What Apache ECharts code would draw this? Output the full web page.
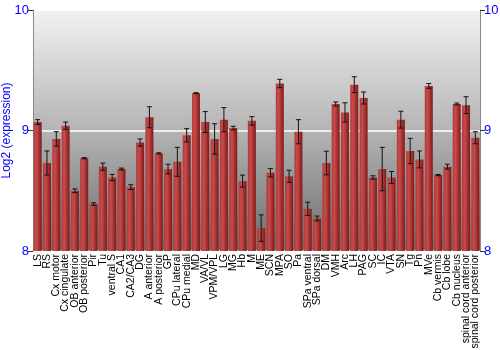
<!DOCTYPE html>
<html>
<head>
<meta charset="utf-8">
<script src="https://cdn.jsdelivr.net/npm/echarts@6/dist/echarts.min.js"></script>
<style>html,body{margin:0;padding:0;background:#fff;}#c{width:500px;height:350px;}</style>
</head>
<body>
<div id="c"></div>
<script>
const categories = ["LS","RS","Cx motor","Cx cingulate","OB anterior","OB posterior","Pir","Tu","ventral S","CA1","CA2/CA3","DG","A anterior","A posterior","GP","CPu lateral","CPu medial","MD","VA/VL","VPM/VPL","LG","MG","Hb","M","ME","SCN","MPA","SO","Pa","SPa ventral","SPa dorsal","DM","VMH","Arc","LH","PAG","SC","IC","VTA","SN","Tg","Pn","MVe","Cb vermis","Cb lobe","Cb nucleus","spinal cord anterior","spinal cord posterior"];
const means = [9.07,8.73,8.93,9.04,8.50,8.77,8.39,8.70,8.61,8.68,8.53,8.90,9.11,8.81,8.68,8.74,8.96,9.31,9.07,8.93,9.09,9.02,8.58,9.08,8.19,8.65,9.39,8.62,8.99,8.35,8.27,8.73,9.22,9.15,9.38,9.27,8.61,8.68,8.61,9.09,8.83,8.76,9.37,8.63,8.70,9.22,9.21,8.94];
const errors = [0.02,0.10,0.06,0.03,0.015,0.005,0.01,0.03,0.026,0.008,0.02,0.03,0.087,0.005,0.04,0.12,0.055,0.004,0.087,0.126,0.10,0.015,0.05,0.035,0.11,0.035,0.035,0.05,0.10,0.055,0.02,0.098,0.017,0.08,0.066,0.05,0.014,0.18,0.05,0.07,0.105,0.07,0.02,0.005,0.02,0.008,0.07,0.05];
const yTicks = [8,9,10];

const chart = echarts.init(document.getElementById('c'), null, {renderer:'canvas'});
const FONT = 'Liberation Sans';
const errData = means.map((m,i)=>[i, m-errors[i], m+errors[i]]);
const yAxisCommon = {
  type:'value', min:yTicks[0], max:yTicks[yTicks.length-1], interval:1,
  axisLine:{show:true, lineStyle:{color:'#888', width:1}},
  axisTick:{show:true, length:5, lineStyle:{color:'#333'}},
  axisLabel:{color:'#0000ff', fontSize:13, fontFamily:FONT, margin:4},
};
chart.setOption({
  animation:false,
  textStyle:{fontFamily:FONT},
  grid:{left:33, right:20, top:10, bottom:99, show:true, borderWidth:0, containLabel:false, outerBoundsMode:'none',
    backgroundColor:new echarts.graphic.LinearGradient(0,0,0,1,[{offset:0,color:'#f2f2f2'},{offset:0.5,color:'#b4b4b4'},{offset:1,color:'#6c6c6c'}])},
  xAxis:{type:'category', data:categories,
    axisLine:{show:false}, axisTick:{show:false},
    axisLabel:{interval:0, rotate:90, fontSize:10.5, color:'#000', margin:3, fontFamily:FONT}},
  yAxis:[
    Object.assign({}, yAxisCommon, {position:'left', name:'Log2 (expression)', nameLocation:'middle', nameRotate:90, nameGap:20, nameMoveOverlap:false,
      nameTextStyle:{color:'#0000ff', fontSize:12, fontFamily:FONT},
      splitLine:{show:true, lineStyle:{color:'#ffffff', width:1.5}}}),
    Object.assign({}, yAxisCommon, {position:'right', splitLine:{show:false}})
  ],
  series:[
    {type:'bar', data:means, barCategoryGap:'14%',
     itemStyle:{color:new echarts.graphic.LinearGradient(0,0,1,0,[{offset:0,color:'#b03a3a'},{offset:0.35,color:'#c94b4b'},{offset:1,color:'#801818'}])}},
    {type:'custom', data:errData, z:10,
     renderItem:function(params, api){
       const x = api.value(0);
       const lo = api.coord([x, api.value(1)]);
       const hi = api.coord([x, api.value(2)]);
       const hw = 2.5;
       const st = {stroke:'#111', lineWidth:1};
       return {type:'group', children:[
         {type:'line', shape:{x1:lo[0],y1:lo[1],x2:hi[0],y2:hi[1]}, style:st},
         {type:'line', shape:{x1:lo[0]-hw,y1:lo[1],x2:lo[0]+hw,y2:lo[1]}, style:st},
         {type:'line', shape:{x1:hi[0]-hw,y1:hi[1],x2:hi[0]+hw,y2:hi[1]}, style:st}
       ]};
     }}
  ]
});
</script>
</body>
</html>
